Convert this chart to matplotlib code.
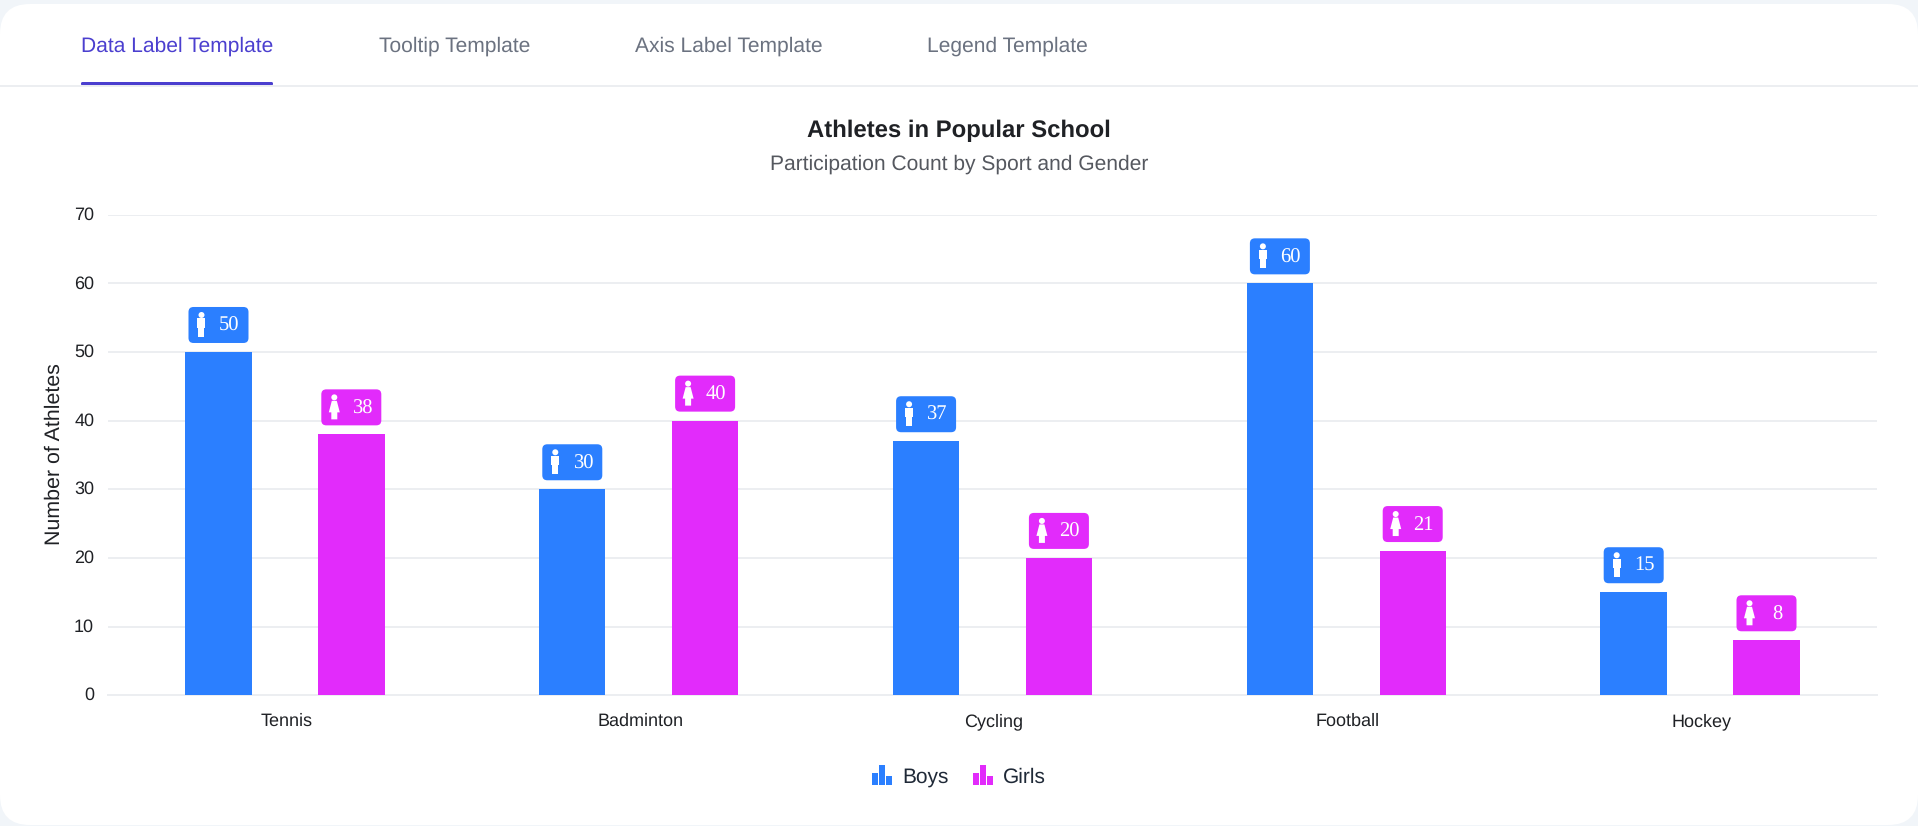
# recreate the athletes bar chart
import matplotlib
matplotlib.use('Agg')
import numpy as np
import matplotlib.pyplot as plt
from matplotlib.patches import FancyBboxPatch, Circle, Polygon, Rectangle
from matplotlib.transforms import Affine2D

plt.rcParams['font.family'] = ['Liberation Sans', 'DejaVu Sans']
plt.rcParams['text.hinting'] = 'no_hinting'

tabs = ['Data Label Template', 'Tooltip Template', 'Axis Label Template', 'Legend Template']
sports = ['Tennis', 'Badminton', 'Cycling', 'Football', 'Hockey']
boys = [50, 30, 37, 60, 15]
girls = [38, 40, 20, 21, 8]
y_ticks = [0, 10, 20, 30, 40, 50, 60, 70]

BLUE = '#2b7fff'
MAGENTA = '#e22bfb'
GRID = '#eceef1'

W, H = 1918, 826
fig = plt.figure(figsize=(W / 100, H / 100), dpi=100, facecolor='#f1f5f9')

# page layer, in pixels from the top left
bg = fig.add_axes([0, 0, 1, 1], zorder=0)
bg.set_xlim(0, W)
bg.set_ylim(H, 0)
bg.axis('off')
bg.add_patch(FancyBboxPatch((0, 4), W, H - 5, boxstyle='round,pad=0,rounding_size=30',
                            fc='white', ec='none'))
bg.plot([0, W], [85.5, 85.5], color='#eceef1', lw=1.4)

tab_x = [81, 379, 635, 927]
for i, t in enumerate(tabs):
    bg.text(tab_x[i], 46, t, fontsize=15.15, va='center', ha='left',
            color='#4b3fcf' if i == 0 else '#6b7280')
bg.add_patch(FancyBboxPatch((81, 82), 192, 3.5, boxstyle='round,pad=0,rounding_size=1.5',
                            fc='#4b3fcf', ec='none'))

bg.text(959, 130.5, 'Athletes in Popular School', fontsize=17.2, fontweight='bold',
        ha='center', va='center', color='#1f2125')
bg.text(959, 164.5, 'Participation Count by Sport and Gender', fontsize=15.15,
        ha='center', va='center', color='#55585f')
bg.text(54.5, 454, 'Number of Athletes', fontsize=15.4, rotation=90,
        ha='center', va='center', color='#1f2125')

# legend, small bar icons
for x0, col, name in [(872, BLUE, 'Boys'), (973, MAGENTA, 'Girls')]:
    for k, top in enumerate([773, 765, 776]):
        bg.add_patch(Rectangle((x0 + k * 7, top), 6, 785 - top, fc=col, ec='none'))
    bg.text(x0 + 30, 777, name, fontsize=15, ha='left', va='center', color='#1f2937')

# chart
ax = fig.add_axes([108 / W, 1 - 695.2 / H, (1877 - 108) / W, (695.2 - 214.7) / H], zorder=1)
ax.patch.set_alpha(0)
x = np.arange(len(sports))
width = 0.1877
ax.bar(x - width, boys, width, color=BLUE, zorder=3)
ax.bar(x + width, girls, width, color=MAGENTA, zorder=3)
ax.set_xlim(-0.5, len(sports) - 0.5)
ax.set_ylim(0, 70)
ax.set_xticks(x, sports)
ax.set_yticks(y_ticks)
ax.tick_params(axis='both', length=0, labelsize=13, labelcolor='#1f2125')
ax.tick_params(axis='x', pad=13)
ax.tick_params(axis='y', pad=10)
for lab in ax.get_yticklabels():
    lab.set_transform(lab.get_transform() + Affine2D().translate(0, 1.5))
for lab in ax.get_xticklabels():
    lab.set_transform(lab.get_transform() + Affine2D().translate(1.5, 0))
ax.grid(axis='y', color=GRID, lw=1.4, zorder=1)
ax.set_axisbelow(True)
for s in ['top', 'right', 'left']:
    ax.spines[s].set_visible(False)
ax.spines['bottom'].set_color(GRID)
ax.spines['bottom'].set_linewidth(1.4)

BOY_SHAPE = [(-21, 33.5), (-13, 33.5), (-13, 24), (-14, 24), (-14, 15), (-20, 15), (-20, 24), (-21, 24)]
GIRL_SHAPE = [(-19.5, 33.5), (-14.5, 33.5), (-11.5, 22), (-14, 22), (-14, 15), (-20, 15), (-20, 22), (-22.5, 22)]


def draw_label(xpos, val, col, shape):
    # pixel offsets from the top centre of the bar
    px, py = ax.transData.transform((xpos, val))
    tr = Affine2D().translate(px, py)
    ax.add_patch(FancyBboxPatch((-30, 9), 60, 36, boxstyle='round,pad=0,rounding_size=5',
                                fc=col, ec='none', transform=tr, zorder=5, clip_on=False))
    ax.add_patch(Circle((-17, 37), 3, fc='white', ec='none', transform=tr, zorder=6))
    ax.add_patch(Polygon(shape, closed=True, fc='white', ec='none', transform=tr, zorder=6))
    ax.text(10.5, 26, str(val), transform=tr, ha='center', va='center', color='white',
            fontsize=14.8, family=['Liberation Serif'], zorder=7)


for i in range(len(sports)):
    draw_label(x[i] - width, boys[i], BLUE, BOY_SHAPE)
    draw_label(x[i] + width, girls[i], MAGENTA, GIRL_SHAPE)

plt.savefig('out.png', dpi=100, facecolor=fig.get_facecolor())
